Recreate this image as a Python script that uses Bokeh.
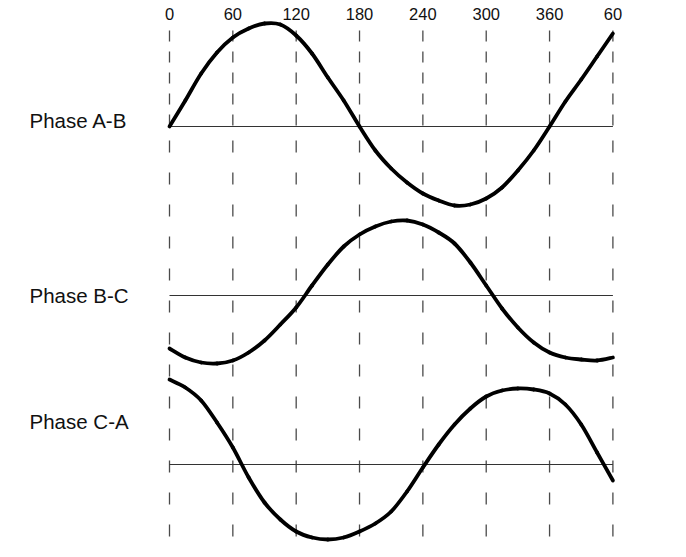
from bokeh.plotting import figure
from bokeh.models import Range1d
from bokeh.core.properties import value
from bokeh.embed import file_html
from bokeh.resources import INLINE

# ---- data ----
tick_deg = [0, 60, 120, 180, 240, 300, 360, 420]
tick_labels = ["0", "60", "120", "180", "240", "300", "360", "60"]

deg = [0, 15, 30, 45, 60, 75, 90, 105, 120, 135, 150, 165, 180, 195, 210,
       225, 240, 255, 270, 285, 300, 315, 330, 345, 360, 375, 390, 405, 420]
phase_ab = [0, 26, 53, 74, 89, 98, 103, 102, 91, 73, 49, 26, 0, -24, -42,
            -56, -67, -74, -79, -78, -72, -61, -44, -24, 0, 25, 47, 70, 93]
phase_bc = [-53, -62, -67, -68, -65, -57, -45, -29, -12, 10, 31, 49, 61, 69, 74,
            75, 71, 63, 52, 33, 10, -13, -32, -47, -57, -62, -64, -65, -62]
phase_ca = [85, 77, 64, 42, 17, -13, -38, -55, -67, -73, -75, -73, -67, -59, -47,
            -27, -3, 20, 40, 56, 68, 74, 76, 75, 71, 60, 40, 12, -16]
phase_names = ["Phase A-B", "Phase B-C", "Phase C-A"]

# ---- layout ----
W, H = 684, 555
px_per_deg = (612.4 - 169.0) / 420.0
x0 = (0 - 169.0) / px_per_deg
x1 = (W - 169.0) / px_per_deg
baselines = [126, 295, 464]          # pixel rows of the zero lines
label_rows = [120, 295, 421]
label_x = (29 - 169.0) / px_per_deg

p = figure(width=W, height=H, output_backend="svg", toolbar_location=None,
           x_range=Range1d(x0, x1), y_range=Range1d(H, 0),
           x_axis_type=None, y_axis_type=None, min_border=0,
           background_fill_color="white", border_fill_color="white")
p.outline_line_color = None
p.grid.visible = False

n = len(tick_deg)
# dashed verticals (denser dashes in the top band, as in the reference)
p.segment(x0=tick_deg, x1=tick_deg, y0=[30] * n, y1=[128] * n,
          line_color="#4a4a4a", line_width=1.3, line_dash="11 10")
p.segment(x0=tick_deg, x1=tick_deg, y0=[140] * n, y1=[H + 5] * n,
          line_color="#4a4a4a", line_width=1.3, line_dash="12 20")

# zero lines
p.segment(x0=[0] * 3, x1=[420] * 3, y0=baselines, y1=baselines,
          line_color="#333333", line_width=1.2)


def smooth(xs, ys):
    """Catmull-Rom segments through the read points, as Bezier glyph params."""
    m = len(xs)
    out = dict(x0=[], y0=[], x1=[], y1=[], cx0=[], cy0=[], cx1=[], cy1=[])
    for i in range(m - 1):
        a = max(i - 1, 0)
        d = min(i + 2, m - 1)
        out["x0"].append(xs[i]); out["y0"].append(ys[i])
        out["x1"].append(xs[i + 1]); out["y1"].append(ys[i + 1])
        out["cx0"].append(xs[i] + (xs[i + 1] - xs[a]) / 6.0)
        out["cy0"].append(ys[i] + (ys[i + 1] - ys[a]) / 6.0)
        out["cx1"].append(xs[i + 1] - (xs[d] - xs[i]) / 6.0)
        out["cy1"].append(ys[i + 1] - (ys[d] - ys[i]) / 6.0)
    return out


for vals, base in zip([phase_ab, phase_bc, phase_ca], baselines):
    ys = [base - v for v in vals]
    p.bezier(**smooth(deg, ys), line_color="black", line_width=3.8,
             line_cap="round")

# top labels
p.text(x=tick_deg, y=[13] * n, text=tick_labels,
       text_font=value("Liberation Sans"), text_font_size="16.5px",
       text_align="center", text_baseline="middle", text_color="#111111")

# phase labels
p.text(x=[label_x] * 3, y=label_rows, text=phase_names,
       text_font=value("Liberation Sans"), text_font_size="20.5px",
       text_align="left", text_baseline="middle", text_color="#111111")

open("out.html", "w").write(file_html(p, INLINE))
